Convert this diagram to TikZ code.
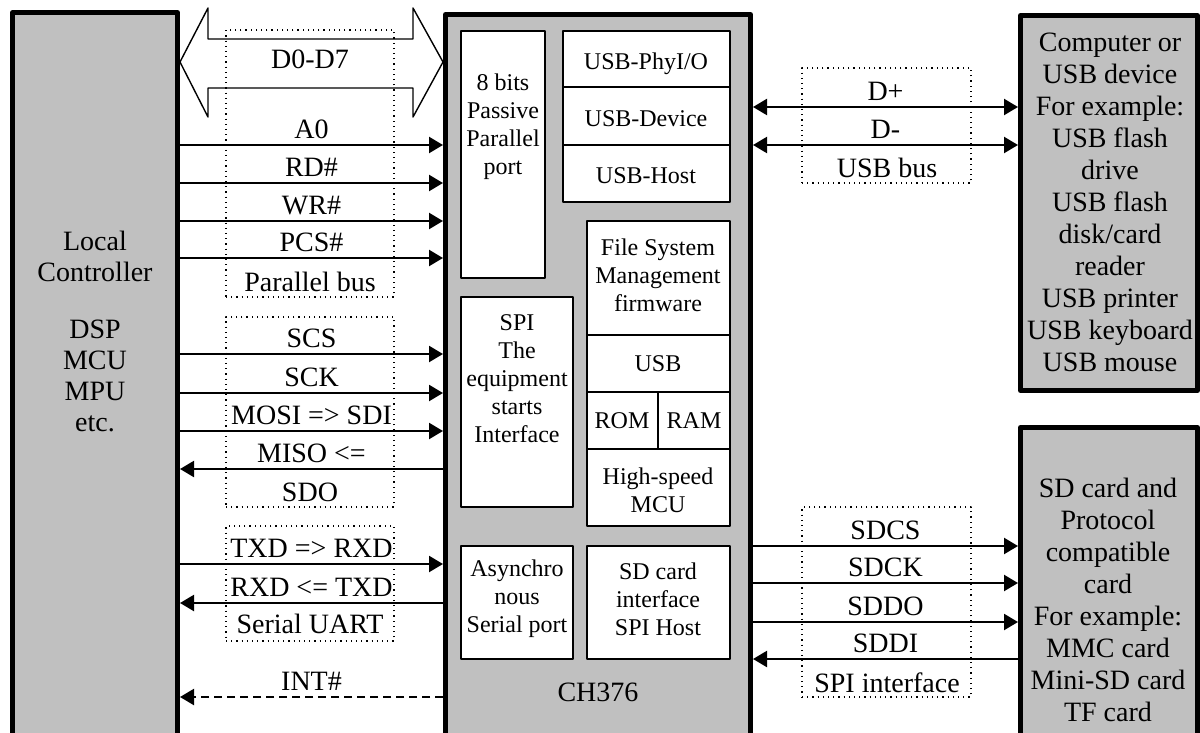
\documentclass[tikz,border=0pt]{standalone}
\usepackage{fontspec}
\setmainfont{Liberation Serif}
\usetikzlibrary{arrows.meta, positioning, calc, fit}
\definecolor{boxgray}{HTML}{C0C0C0}

\tikzset{
  outer box/.style={draw, fill=boxgray, line width=2.5pt, inner sep=0pt},
  inner box/.style={draw, fill=white, line width=0.8pt, inner sep=0pt},
  intxt/.style={align=center, inner sep=0pt, font=\fontsize{12}{14}\selectfont},
  outtxt/.style={align=center, inner sep=0pt, font=\fontsize{14}{16}\selectfont},
  grp/.style={draw, dotted, line width=0.6pt, inner sep=0pt},
  sig/.style={-{Triangle[length=7pt,width=8pt]}, line width=1.1pt},
  bisig/.style={{Triangle[length=7pt,width=8pt]}-{Triangle[length=7pt,width=8pt]}, line width=1.1pt},
  lbl/.style={above=2.8pt, inner sep=0pt, text depth=0pt, font=\fontsize{14}{16}\selectfont},
  bus/.style={line width=0.7pt}
}

\begin{document}
\begin{tikzpicture}[x=0.5pt, y=-0.5pt, line join=round]
  \useasboundingbox (0,0) rectangle (1200,733);
  \clip (0,0) rectangle (1200,733);

  % outer blocks
  \node[outer box, fit={(12.5,12.5) (177.5,800)}] (ctrl) {};
  \node[outer box, fit={(445.5,14.5) (750.5,800)}] (chip) {};
  \node[outer box, fit={(1020.5,15.5) (1197.5,390.5)}] (usbdev) {};
  \node[outer box, fit={(1020.5,427.5) (1197.5,800)}] (sdcard) {};

  \node[outtxt, font=\fontsize{14}{15.5}\selectfont] (ctrltxt) at (95,331)
    {Local\\Controller\\[13pt]DSP\\MCU\\MPU\\etc.};
  \node[outtxt] (usbdevtxt) at (1110,202)
    {Computer or\\USB device\\For example:\\USB flash\\drive\\USB flash\\disk/card\\reader\\USB printer\\USB keyboard\\USB mouse};
  \node[outtxt] (sdcardtxt) at (1108,600)
    {SD card and\\Protocol\\compatible\\card\\For example:\\MMC card\\Mini-SD card\\TF card};

  % blocks inside the chip
  \node[inner box, fit={(461,31) (545,278)}] (par) {};
  \node[inner box, fit={(563,31) (730,87)}] (phy) {};
  \node[inner box, fit={(563,87) (730,145)}] (dev) {};
  \node[inner box, fit={(563,145) (730,202)}] (host) {};
  \node[inner box, fit={(587,221) (730,335)}] (fsm) {};
  \node[inner box, fit={(587,335) (730,392)}] (usbm) {};
  \node[inner box, fit={(587,392) (658,449)}] (rom) {};
  \node[inner box, fit={(658,392) (730,449)}] (ram) {};
  \node[inner box, fit={(587,449) (730,526)}] (mcu) {};
  \node[inner box, fit={(461,297) (573,507)}] (spi) {};
  \node[inner box, fit={(461,546) (573,659)}] (uart) {};
  \node[inner box, fit={(587,546) (730,659)}] (sdif) {};

  \node[intxt] (partxt) at (503,127) {8 bits\\Passive\\Parallel\\port};
  \node[intxt] (phytxt) at (646,64) {USB-PhyI/O};
  \node[intxt] (devtxt) at (646,119) {USB-Device};
  \node[intxt] (hosttxt) at (646,176) {USB-Host};
  \node[intxt] (fsmtxt) at (658,275) {File System\\Management\\firmware};
  \node[intxt] (usbmtxt) at (658,364) {USB};
  \node[intxt] (romtxt) at (622,421) {ROM};
  \node[intxt] (ramtxt) at (694,421) {RAM};
  \node[intxt] (mcutxt) at (658,490) {High-speed\\MCU};
  \node[intxt] (spitxt) at (517,379) {SPI\\The\\equipment\\starts\\Interface};
  \node[intxt] (uarttxt) at (517,599) {Asynchro\\nous\\Serial port};
  \node[intxt] (sdiftxt) at (658,599) {SD card\\interface\\SPI Host};
  \node[outtxt] (chipname) at (598,692) {CH376};

  % bus groups
  \node[grp, fit={(226,30) (394,297)}] (pbus) {};
  \node[grp, fit={(226,317) (394,507)}] (spibus) {};
  \node[grp, fit={(226,526) (394,641)}] (uartbus) {};
  \node[grp, fit={(802,68) (971,183)}] (usbbus) {};
  \node[grp, fit={(802,507) (971,697)}] (sdbus) {};

  % data bus
  \coordinate (dl) at (ctrl.east |- 0,62);
  \coordinate (dr) at (chip.west |- 0,62);
  \draw[bus] (dl) -- ++(28,-54) -- ++(0,31) -- ($(dr)+(-30,-23)$) -- ++(0,-31) -- (dr)
    -- ++(-30,55) -- ++(0,-29) -- ($(dl)+(28,26)$) -- ++(0,29) -- cycle;
  \node[outtxt] (dbus) at (310,59) {D0-D7};

  % local controller side
  \foreach \y/\t in {145/A0, 183/RD\#, 221/WR\#, 258/PCS\#, 354/SCS, 393/SCK, 431/MOSI => SDI, 564/TXD => RXD}
    \draw[sig] (ctrl.east |- 0,\y) -- node[lbl] {\t} (chip.west |- 0,\y);
  \foreach \y/\t in {469/MISO <=, 603/RXD <= TXD}
    \draw[sig] (chip.west |- 0,\y) -- node[lbl] {\t} (ctrl.east |- 0,\y);
  \draw[sig, dashed, dash pattern=on 4pt off 2.5pt] (chip.west |- 0,697) -- node[lbl] {INT\#} (ctrl.east |- 0,697);
  \node[outtxt] (pbustxt) at (310,282) {Parallel bus};
  \node[outtxt] (sdotxt) at (310,492) {SDO};
  \node[outtxt] (uarttxt) at (310,624) {Serial UART};

  % device side
  \foreach \y/\t in {107/D+, 145/D-}
    \draw[bisig] (chip.east |- 0,\y) -- node[lbl] {\t} (usbdev.west |- 0,\y);
  \foreach \y/\t in {546/SDCS, 583/SDCK, 622/SDDO}
    \draw[sig] (chip.east |- 0,\y) -- node[lbl] {\t} (sdcard.west |- 0,\y);
  \draw[sig] (sdcard.west |- 0,659) -- node[lbl] {SDDI} (chip.east |- 0,659);
  \node[outtxt] (usbbustxt) at (887,168) {USB bus};
  \node[outtxt] (sdbustxt) at (887,683) {SPI interface};
\end{tikzpicture}
\end{document}
